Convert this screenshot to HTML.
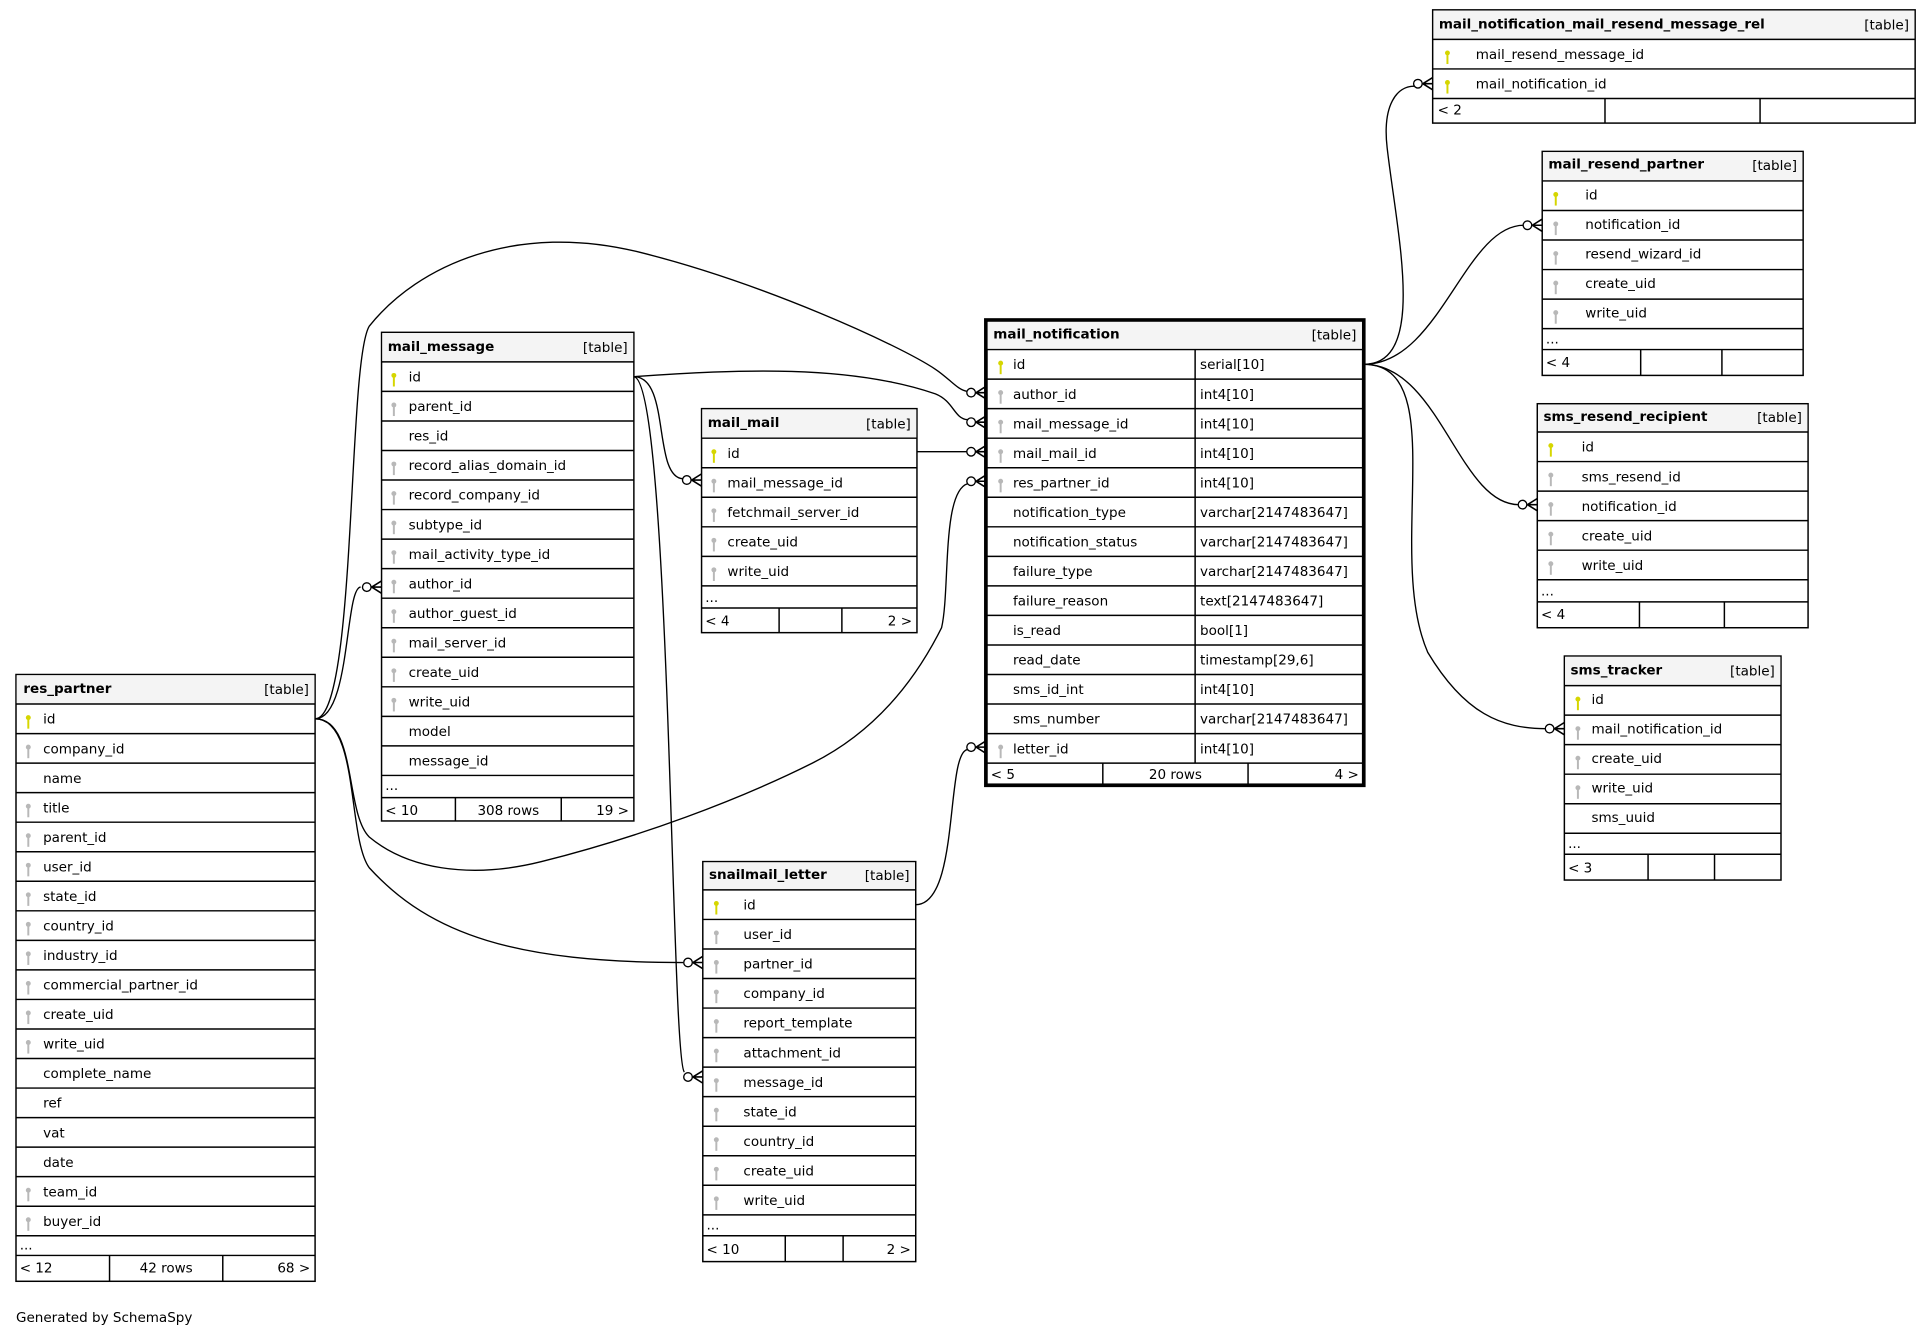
<!DOCTYPE html>
<html><head><meta charset="utf-8"><style>
html,body{margin:0;padding:0;background:#fff;width:1925px;height:1333px;overflow:hidden}
svg text{font-family:"DejaVu Sans","Liberation Sans",sans-serif;font-size:11px;fill:#000}
.h{font-weight:bold}
.t{fill:#fff;stroke:#000;stroke-width:1.2}
.hd{fill:#f4f4f4}
.ln{stroke:#000;stroke-width:1.2}
.e{fill:none;stroke:#000;stroke-width:1.1}
.c{fill:#fff;stroke:#000;stroke-width:1.1}
</style></head><body>
<svg width="1925" height="1333" viewBox="0 0 1564 1083" xmlns="http://www.w3.org/2000/svg">
<defs>
<g id="pk"><circle cx="0" cy="9" r="2" fill="#d6d600"/><rect x="-0.8" y="10" width="1.6" height="8" fill="#d6d600"/></g>
<g id="fk"><circle cx="0" cy="9" r="2" fill="#b8b8b8"/><rect x="-0.8" y="10" width="1.6" height="8" fill="#b8b8b8"/></g>
<g id="cf"><path d="M-8,0 L0,-5 M-8,0 L0,0 M-8,0 L0,5" stroke="#000" stroke-width="1.3" fill="none"/><circle cx="-12" cy="0" r="3.5" class="c"/></g>
</defs>

<!-- edges -->
<path class="e" d="M256,584 C285,584 280,478 293,477"/>
<path class="e" d="M256,584 C290,584 282,295 300,265 C340,215 420,180 520,205 C620,230 730,280 760,300 C772,308 778,317 786,318"/>
<path class="e" d="M256,584 C290,584 280,660 300,680 C330,705 380,715 440,700 C520,680 600,650 660,620 C720,590 750,540 765,510 C772,480 765,400 786,393"/>
<path class="e" d="M256,584 C292,584 282,680 300,705 C350,760 420,782 555,782"/>
<path class="e" d="M515,306 C600,300 690,296 760,320 C775,326 775,340 786,341"/>
<path class="e" d="M515,306 C545,306 530,388 555,389"/>
<path class="e" d="M515,306 C545,310 545,860 556,871"/>
<path class="e" d="M745,367 L786,367"/>
<path class="e" d="M744,735 C780,735 768,612 786,609"/>
<path class="e" d="M1108,296 C1160,296 1135,190 1127,120 C1123,85 1135,70 1149,70"/>
<path class="e" d="M1108,296 C1170,296 1190,183 1238,183"/>
<path class="e" d="M1108,296 C1170,296 1185,410 1234,410"/>
<path class="e" d="M1108,296 C1180,296 1125,450 1160,530 C1190,580 1220,592 1256,592"/>
<use href="#cf" x="310" y="477"/>
<use href="#cf" x="801" y="319"/>
<use href="#cf" x="801" y="343"/>
<use href="#cf" x="801" y="367"/>
<use href="#cf" x="801" y="391"/>
<use href="#cf" x="801" y="607"/>
<use href="#cf" x="570" y="390"/>
<use href="#cf" x="571" y="782"/>
<use href="#cf" x="571" y="875"/>
<use href="#cf" x="1164" y="68"/>
<use href="#cf" x="1253" y="183"/>
<use href="#cf" x="1249" y="410"/>
<use href="#cf" x="1271" y="592"/>

<!-- res_partner -->
<rect class="t" x="13" y="548" width="243" height="493"/>
<rect class="hd" x="13.6" y="548.6" width="241.8" height="23"/>
<g class="ln">
<line x1="13" x2="256" y1="572" y2="572"/><line x1="13" x2="256" y1="596" y2="596"/><line x1="13" x2="256" y1="620" y2="620"/><line x1="13" x2="256" y1="644" y2="644"/><line x1="13" x2="256" y1="668" y2="668"/><line x1="13" x2="256" y1="692" y2="692"/><line x1="13" x2="256" y1="716" y2="716"/><line x1="13" x2="256" y1="740" y2="740"/><line x1="13" x2="256" y1="764" y2="764"/><line x1="13" x2="256" y1="788" y2="788"/><line x1="13" x2="256" y1="812" y2="812"/><line x1="13" x2="256" y1="836" y2="836"/><line x1="13" x2="256" y1="860" y2="860"/><line x1="13" x2="256" y1="884" y2="884"/><line x1="13" x2="256" y1="908" y2="908"/><line x1="13" x2="256" y1="932" y2="932"/><line x1="13" x2="256" y1="956" y2="956"/><line x1="13" x2="256" y1="980" y2="980"/><line x1="13" x2="256" y1="1004" y2="1004"/><line x1="13" x2="256" y1="1020" y2="1020"/>
<line x1="89" x2="89" y1="1020" y2="1041"/><line x1="181" x2="181" y1="1020" y2="1041"/></g>
<text class="h" x="19" y="563">res_partner</text><text x="251" y="564" text-anchor="end">[table]</text>
<use href="#pk" x="23" y="574"/><use href="#fk" x="23" y="598"/><use href="#fk" x="23" y="646"/><use href="#fk" x="23" y="670"/><use href="#fk" x="23" y="694"/><use href="#fk" x="23" y="718"/><use href="#fk" x="23" y="742"/><use href="#fk" x="23" y="766"/><use href="#fk" x="23" y="790"/><use href="#fk" x="23" y="814"/><use href="#fk" x="23" y="838"/><use href="#fk" x="23" y="958"/><use href="#fk" x="23" y="982"/>
<text x="35" y="588">id</text><text x="35" y="612">company_id</text><text x="35" y="636">name</text><text x="35" y="660">title</text><text x="35" y="684">parent_id</text><text x="35" y="708">user_id</text><text x="35" y="732">state_id</text><text x="35" y="756">country_id</text><text x="35" y="780">industry_id</text><text x="35" y="804">commercial_partner_id</text><text x="35" y="828">create_uid</text><text x="35" y="852">write_uid</text><text x="35" y="876">complete_name</text><text x="35" y="900">ref</text><text x="35" y="924">vat</text><text x="35" y="948">date</text><text x="35" y="972">team_id</text><text x="35" y="996">buyer_id</text>
<text x="16" y="1015">...</text><text x="16" y="1034">&lt; 12</text><text x="135" y="1034" text-anchor="middle">42 rows</text><text x="252" y="1034" text-anchor="end">68 &gt;</text>

<!-- mail_message -->
<rect class="t" x="310" y="270" width="205" height="397"/>
<rect class="hd" x="310.6" y="270.6" width="203.8" height="23"/>
<g class="ln">
<line x1="310" x2="515" y1="294" y2="294"/><line x1="310" x2="515" y1="318" y2="318"/><line x1="310" x2="515" y1="342" y2="342"/><line x1="310" x2="515" y1="366" y2="366"/><line x1="310" x2="515" y1="390" y2="390"/><line x1="310" x2="515" y1="414" y2="414"/><line x1="310" x2="515" y1="438" y2="438"/><line x1="310" x2="515" y1="462" y2="462"/><line x1="310" x2="515" y1="486" y2="486"/><line x1="310" x2="515" y1="510" y2="510"/><line x1="310" x2="515" y1="534" y2="534"/><line x1="310" x2="515" y1="558" y2="558"/><line x1="310" x2="515" y1="582" y2="582"/><line x1="310" x2="515" y1="606" y2="606"/><line x1="310" x2="515" y1="630" y2="630"/><line x1="310" x2="515" y1="648" y2="648"/>
<line x1="370" x2="370" y1="648" y2="667"/><line x1="456" x2="456" y1="648" y2="667"/></g>
<text class="h" x="315" y="285">mail_message</text><text x="510" y="286" text-anchor="end">[table]</text>
<use href="#pk" x="320" y="296"/><use href="#fk" x="320" y="320"/><use href="#fk" x="320" y="368"/><use href="#fk" x="320" y="392"/><use href="#fk" x="320" y="416"/><use href="#fk" x="320" y="440"/><use href="#fk" x="320" y="464"/><use href="#fk" x="320" y="488"/><use href="#fk" x="320" y="512"/><use href="#fk" x="320" y="536"/><use href="#fk" x="320" y="560"/>
<text x="332" y="310">id</text><text x="332" y="334">parent_id</text><text x="332" y="358">res_id</text><text x="332" y="382">record_alias_domain_id</text><text x="332" y="406">record_company_id</text><text x="332" y="430">subtype_id</text><text x="332" y="454">mail_activity_type_id</text><text x="332" y="478">author_id</text><text x="332" y="502">author_guest_id</text><text x="332" y="526">mail_server_id</text><text x="332" y="550">create_uid</text><text x="332" y="574">write_uid</text><text x="332" y="598">model</text><text x="332" y="622">message_id</text>
<text x="313" y="642">...</text><text x="313" y="662">&lt; 10</text><text x="413" y="662" text-anchor="middle">308 rows</text><text x="511" y="662" text-anchor="end">19 &gt;</text>

<!-- mail_mail -->
<rect class="t" x="570" y="332" width="175" height="182"/>
<rect class="hd" x="570.6" y="332.6" width="173.8" height="23"/>
<g class="ln">
<line x1="570" x2="745" y1="356" y2="356"/><line x1="570" x2="745" y1="380" y2="380"/><line x1="570" x2="745" y1="404" y2="404"/><line x1="570" x2="745" y1="428" y2="428"/><line x1="570" x2="745" y1="452" y2="452"/><line x1="570" x2="745" y1="476" y2="476"/><line x1="570" x2="745" y1="494" y2="494"/>
<line x1="633" x2="633" y1="494" y2="514"/><line x1="684" x2="684" y1="494" y2="514"/></g>
<text class="h" x="575" y="347">mail_mail</text><text x="740" y="348" text-anchor="end">[table]</text>
<use href="#pk" x="580" y="358"/><use href="#fk" x="580" y="382"/><use href="#fk" x="580" y="406"/><use href="#fk" x="580" y="430"/><use href="#fk" x="580" y="454"/>
<text x="591" y="372">id</text><text x="591" y="396">mail_message_id</text><text x="591" y="420">fetchmail_server_id</text><text x="591" y="444">create_uid</text><text x="591" y="468">write_uid</text>
<text x="573" y="489">...</text><text x="573" y="508">&lt; 4</text><text x="741" y="508" text-anchor="end">2 &gt;</text>

<!-- mail_notification -->
<rect class="t" x="801" y="260" width="307" height="378" style="stroke-width:3"/>
<rect class="hd" x="802.5" y="261.5" width="304" height="22"/>
<g class="ln">
<line x1="801" x2="1108" y1="284" y2="284"/><line x1="801" x2="1108" y1="308" y2="308"/><line x1="801" x2="1108" y1="332" y2="332"/><line x1="801" x2="1108" y1="356" y2="356"/><line x1="801" x2="1108" y1="380" y2="380"/><line x1="801" x2="1108" y1="404" y2="404"/><line x1="801" x2="1108" y1="428" y2="428"/><line x1="801" x2="1108" y1="452" y2="452"/><line x1="801" x2="1108" y1="476" y2="476"/><line x1="801" x2="1108" y1="500" y2="500"/><line x1="801" x2="1108" y1="524" y2="524"/><line x1="801" x2="1108" y1="548" y2="548"/><line x1="801" x2="1108" y1="572" y2="572"/><line x1="801" x2="1108" y1="596" y2="596"/><line x1="801" x2="1108" y1="620" y2="620"/>
<line x1="971" x2="971" y1="284" y2="620"/><line x1="896" x2="896" y1="620" y2="638"/><line x1="1014" x2="1014" y1="620" y2="638"/></g>
<text class="h" x="807" y="275">mail_notification</text><text x="1102" y="276" text-anchor="end">[table]</text>
<use href="#pk" x="813" y="286"/><use href="#fk" x="813" y="310"/><use href="#fk" x="813" y="334"/><use href="#fk" x="813" y="358"/><use href="#fk" x="813" y="382"/><use href="#fk" x="813" y="598"/>
<text x="823" y="300">id</text><text x="823" y="324">author_id</text><text x="823" y="348">mail_message_id</text><text x="823" y="372">mail_mail_id</text><text x="823" y="396">res_partner_id</text><text x="823" y="420">notification_type</text><text x="823" y="444">notification_status</text><text x="823" y="468">failure_type</text><text x="823" y="492">failure_reason</text><text x="823" y="516">is_read</text><text x="823" y="540">read_date</text><text x="823" y="564">sms_id_int</text><text x="823" y="588">sms_number</text><text x="823" y="612">letter_id</text>
<text x="975" y="300">serial[10]</text><text x="975" y="324">int4[10]</text><text x="975" y="348">int4[10]</text><text x="975" y="372">int4[10]</text><text x="975" y="396">int4[10]</text><text x="975" y="420">varchar[2147483647]</text><text x="975" y="444">varchar[2147483647]</text><text x="975" y="468">varchar[2147483647]</text><text x="975" y="492">text[2147483647]</text><text x="975" y="516">bool[1]</text><text x="975" y="540">timestamp[29,6]</text><text x="975" y="564">int4[10]</text><text x="975" y="588">varchar[2147483647]</text><text x="975" y="612">int4[10]</text>
<text x="805" y="633">&lt; 5</text><text x="955" y="633" text-anchor="middle">20 rows</text><text x="1104" y="633" text-anchor="end">4 &gt;</text>

<!-- snailmail_letter -->
<rect class="t" x="571" y="700" width="173" height="325"/>
<rect class="hd" x="571.6" y="700.6" width="171.8" height="22"/>
<g class="ln">
<line x1="571" x2="744" y1="723" y2="723"/><line x1="571" x2="744" y1="747" y2="747"/><line x1="571" x2="744" y1="771" y2="771"/><line x1="571" x2="744" y1="795" y2="795"/><line x1="571" x2="744" y1="819" y2="819"/><line x1="571" x2="744" y1="843" y2="843"/><line x1="571" x2="744" y1="867" y2="867"/><line x1="571" x2="744" y1="891" y2="891"/><line x1="571" x2="744" y1="915" y2="915"/><line x1="571" x2="744" y1="939" y2="939"/><line x1="571" x2="744" y1="963" y2="963"/><line x1="571" x2="744" y1="987" y2="987"/><line x1="571" x2="744" y1="1004" y2="1004"/>
<line x1="638" x2="638" y1="1004" y2="1025"/><line x1="685" x2="685" y1="1004" y2="1025"/></g>
<text class="h" x="576" y="714">snailmail_letter</text><text x="739" y="715" text-anchor="end">[table]</text>
<use href="#pk" x="582" y="725"/><use href="#fk" x="582" y="749"/><use href="#fk" x="582" y="773"/><use href="#fk" x="582" y="797"/><use href="#fk" x="582" y="821"/><use href="#fk" x="582" y="845"/><use href="#fk" x="582" y="869"/><use href="#fk" x="582" y="893"/><use href="#fk" x="582" y="917"/><use href="#fk" x="582" y="941"/><use href="#fk" x="582" y="965"/>
<text x="604" y="739">id</text><text x="604" y="763">user_id</text><text x="604" y="787">partner_id</text><text x="604" y="811">company_id</text><text x="604" y="835">report_template</text><text x="604" y="859">attachment_id</text><text x="604" y="883">message_id</text><text x="604" y="907">state_id</text><text x="604" y="931">country_id</text><text x="604" y="955">create_uid</text><text x="604" y="979">write_uid</text>
<text x="574" y="999">...</text><text x="574" y="1019">&lt; 10</text><text x="740" y="1019" text-anchor="end">2 &gt;</text>

<!-- rel -->
<rect class="t" x="1164" y="8" width="392" height="92"/>
<rect class="hd" x="1164.6" y="8.6" width="390.8" height="23"/>
<g class="ln">
<line x1="1164" x2="1556" y1="32" y2="32"/><line x1="1164" x2="1556" y1="56" y2="56"/><line x1="1164" x2="1556" y1="80" y2="80"/>
<line x1="1304" x2="1304" y1="80" y2="100"/><line x1="1430" x2="1430" y1="80" y2="100"/></g>
<text class="h" x="1169" y="23">mail_notification_mail_resend_message_rel</text><text x="1551" y="24" text-anchor="end">[table]</text>
<use href="#pk" x="1176" y="34"/><use href="#pk" x="1176" y="58"/>
<text x="1199" y="48">mail_resend_message_id</text><text x="1199" y="72">mail_notification_id</text>
<text x="1168" y="93">&lt; 2</text>

<!-- mail_resend_partner -->
<rect class="t" x="1253" y="123" width="212" height="182"/>
<rect class="hd" x="1253.6" y="123.6" width="210.8" height="23"/>
<g class="ln">
<line x1="1253" x2="1465" y1="147" y2="147"/><line x1="1253" x2="1465" y1="171" y2="171"/><line x1="1253" x2="1465" y1="195" y2="195"/><line x1="1253" x2="1465" y1="219" y2="219"/><line x1="1253" x2="1465" y1="243" y2="243"/><line x1="1253" x2="1465" y1="267" y2="267"/><line x1="1253" x2="1465" y1="284" y2="284"/>
<line x1="1333" x2="1333" y1="284" y2="305"/><line x1="1399" x2="1399" y1="284" y2="305"/></g>
<text class="h" x="1258" y="137">mail_resend_partner</text><text x="1460" y="138" text-anchor="end">[table]</text>
<use href="#pk" x="1264" y="149"/><use href="#fk" x="1264" y="173"/><use href="#fk" x="1264" y="197"/><use href="#fk" x="1264" y="221"/><use href="#fk" x="1264" y="245"/>
<text x="1288" y="162">id</text><text x="1288" y="186">notification_id</text><text x="1288" y="210">resend_wizard_id</text><text x="1288" y="234">create_uid</text><text x="1288" y="258">write_uid</text>
<text x="1256" y="279">...</text><text x="1256" y="298">&lt; 4</text>

<!-- sms_resend_recipient -->
<rect class="t" x="1249" y="328" width="220" height="182"/>
<rect class="hd" x="1249.6" y="328.6" width="218.8" height="22"/>
<g class="ln">
<line x1="1249" x2="1469" y1="351" y2="351"/><line x1="1249" x2="1469" y1="375" y2="375"/><line x1="1249" x2="1469" y1="399" y2="399"/><line x1="1249" x2="1469" y1="423" y2="423"/><line x1="1249" x2="1469" y1="447" y2="447"/><line x1="1249" x2="1469" y1="471" y2="471"/><line x1="1249" x2="1469" y1="489" y2="489"/>
<line x1="1332" x2="1332" y1="489" y2="510"/><line x1="1401" x2="1401" y1="489" y2="510"/></g>
<text class="h" x="1254" y="342">sms_resend_recipient</text><text x="1464" y="343" text-anchor="end">[table]</text>
<use href="#pk" x="1260" y="353"/><use href="#fk" x="1260" y="377"/><use href="#fk" x="1260" y="401"/><use href="#fk" x="1260" y="425"/><use href="#fk" x="1260" y="449"/>
<text x="1285" y="367">id</text><text x="1285" y="391">sms_resend_id</text><text x="1285" y="415">notification_id</text><text x="1285" y="439">create_uid</text><text x="1285" y="463">write_uid</text>
<text x="1252" y="484">...</text><text x="1252" y="503">&lt; 4</text>

<!-- sms_tracker -->
<rect class="t" x="1271" y="533" width="176" height="182"/>
<rect class="hd" x="1271.6" y="533.6" width="174.8" height="23"/>
<g class="ln">
<line x1="1271" x2="1447" y1="557" y2="557"/><line x1="1271" x2="1447" y1="581" y2="581"/><line x1="1271" x2="1447" y1="605" y2="605"/><line x1="1271" x2="1447" y1="629" y2="629"/><line x1="1271" x2="1447" y1="653" y2="653"/><line x1="1271" x2="1447" y1="677" y2="677"/><line x1="1271" x2="1447" y1="694" y2="694"/>
<line x1="1339" x2="1339" y1="694" y2="715"/><line x1="1393" x2="1393" y1="694" y2="715"/></g>
<text class="h" x="1276" y="548">sms_tracker</text><text x="1442" y="549" text-anchor="end">[table]</text>
<use href="#pk" x="1282" y="559"/><use href="#fk" x="1282" y="583"/><use href="#fk" x="1282" y="607"/><use href="#fk" x="1282" y="631"/>
<text x="1293" y="572">id</text><text x="1293" y="596">mail_notification_id</text><text x="1293" y="620">create_uid</text><text x="1293" y="644">write_uid</text><text x="1293" y="668">sms_uuid</text>
<text x="1274" y="689">...</text><text x="1274" y="709">&lt; 3</text>

<text x="13" y="1074">Generated by SchemaSpy</text>
</svg>
</body></html>
